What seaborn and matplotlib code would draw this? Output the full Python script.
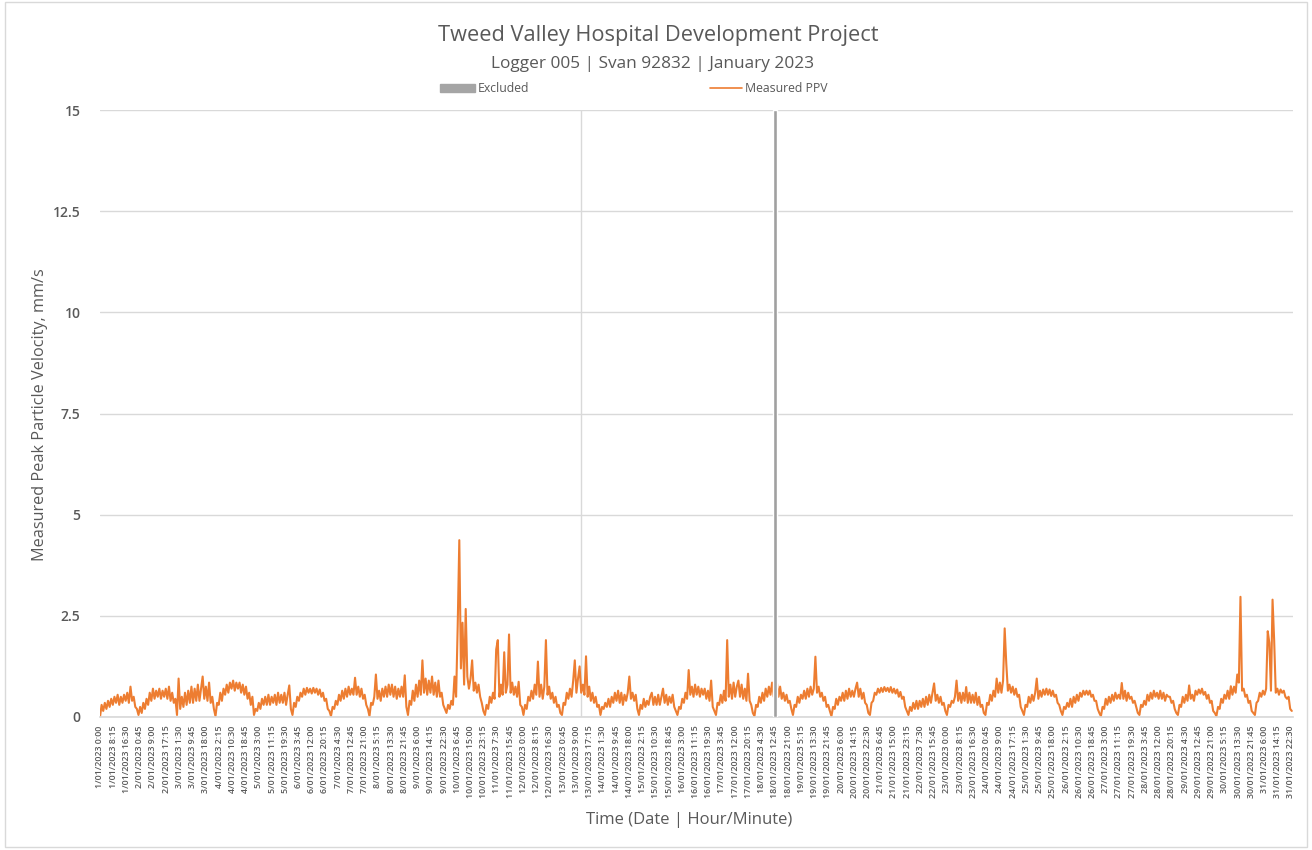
import pandas as pd
import numpy as np
import matplotlib.pyplot as plt
import seaborn as sns
from matplotlib.patches import Rectangle

# hourly PPV readings (mm/s), one row per day of January 2023
ppv = [
    0.0, 0.3, 0.15, 0.35, 0.2, 0.4, 0.25, 0.45, 0.3, 0.5, 0.35, 0.55, 0.3, 0.5, 0.35, 0.55, 0.4, 0.6, 0.35, 0.75, 0.4, 0.5, 0.25, 0.2,
    0.05, 0.25, 0.1, 0.35, 0.2, 0.45, 0.3, 0.6, 0.4, 0.7, 0.45, 0.65, 0.5, 0.7, 0.45, 0.65, 0.5, 0.7, 0.45, 0.75, 0.4, 0.6, 0.35, 0.45,
    0.05, 0.95, 0.2, 0.5, 0.25, 0.6, 0.3, 0.65, 0.35, 0.75, 0.35, 0.7, 0.4, 0.8, 0.4, 0.7, 1.0, 0.45, 0.75, 0.4, 0.85, 0.35, 0.5, 0.2,
    0.02, 0.35, 0.3, 0.6, 0.4, 0.7, 0.55, 0.8, 0.6, 0.85, 0.7, 0.9, 0.65, 0.85, 0.7, 0.85, 0.6, 0.8, 0.55, 0.75, 0.45, 0.6, 0.3, 0.5,
    0.05, 0.2, 0.15, 0.35, 0.2, 0.45, 0.3, 0.5, 0.3, 0.55, 0.3, 0.5, 0.35, 0.55, 0.3, 0.6, 0.35, 0.55, 0.35, 0.6, 0.3, 0.55, 0.78, 0.2,
    0.05, 0.35, 0.25, 0.5, 0.4, 0.6, 0.5, 0.7, 0.55, 0.72, 0.6, 0.7, 0.58, 0.72, 0.6, 0.7, 0.55, 0.68, 0.5, 0.6, 0.4, 0.45, 0.2, 0.15,
    0.02, 0.25, 0.2, 0.4, 0.3, 0.55, 0.4, 0.65, 0.45, 0.7, 0.5, 0.75, 0.55, 0.7, 0.55, 0.97, 0.55, 0.75, 0.5, 0.7, 0.45, 0.55, 0.3, 0.2,
    0.02, 0.35, 0.3, 0.5, 1.05, 0.45, 0.65, 0.4, 0.7, 0.5, 0.75, 0.5, 0.8, 0.55, 0.8, 0.5, 0.75, 0.45, 0.7, 0.5, 0.75, 0.5, 1.03, 0.25,
    0.05, 0.4, 0.3, 0.65, 0.4, 0.8, 0.5, 0.9, 0.55, 1.4, 0.6, 0.95, 0.55, 0.9, 0.6, 1.0, 0.55, 0.85, 0.5, 0.9, 0.5, 0.6, 0.3, 0.2,
    0.1, 0.3, 0.2, 0.4, 0.3, 1.0, 0.5, 2.25, 4.37, 1.2, 2.33, 0.8, 2.67, 1.0, 0.7, 0.95, 1.4, 0.65, 0.85, 0.6, 0.8, 0.5, 0.35, 0.15,
    0.05, 0.3, 0.2, 0.5, 0.35, 0.6, 0.45, 1.67, 1.9, 0.5, 0.8, 0.55, 1.6, 0.6, 0.8, 2.04, 0.6, 0.85, 0.55, 0.75, 0.5, 0.87, 0.3, 0.25,
    0.05, 0.3, 0.2, 0.5, 0.4, 0.65, 0.45, 0.8, 0.55, 1.37, 0.5, 0.8, 0.45, 0.75, 1.9, 0.55, 0.75, 0.45, 0.6, 0.35, 0.5, 0.25, 0.3, 0.1,
    0.05, 0.35, 0.3, 0.6, 0.45, 0.7, 0.5, 0.9, 1.4, 0.6, 0.95, 1.25, 0.6, 0.8, 0.55, 1.5, 0.5, 0.75, 0.4, 0.6, 0.35, 0.5, 0.25, 0.3,
    0.05, 0.25, 0.2, 0.35, 0.25, 0.45, 0.25, 0.5, 0.35, 0.6, 0.4, 0.65, 0.35, 0.6, 0.3, 0.55, 0.4, 0.6, 1.0, 0.45, 0.6, 0.4, 0.55, 0.2,
    0.05, 0.3, 0.2, 0.45, 0.25, 0.4, 0.3, 0.5, 0.6, 0.3, 0.5, 0.3, 0.55, 0.3, 0.5, 0.7, 0.35, 0.55, 0.3, 0.5, 0.35, 0.55, 0.25, 0.15,
    0.05, 0.25, 0.2, 0.45, 0.35, 0.6, 0.45, 1.16, 0.55, 0.75, 0.5, 0.8, 0.55, 0.75, 0.5, 0.7, 0.55, 0.7, 0.45, 0.65, 0.4, 0.9, 0.25, 0.15,
    0.05, 0.35, 0.3, 0.55, 0.35, 0.65, 0.4, 1.9, 0.5, 0.8, 0.45, 0.85, 0.5, 0.75, 0.9, 0.5, 0.8, 0.45, 0.7, 0.4, 1.07, 0.4, 0.3, 0.1,
    0.02, 0.3, 0.25, 0.5, 0.35, 0.6, 0.4, 0.7, 0.5, 0.75, 0.55, 0.85, 0.5, 0.75, 0.85, 0.5, 0.75, 0.45, 0.6, 0.4, 0.55, 0.35, 0.4, 0.2,
    0.05, 0.3, 0.25, 0.5, 0.35, 0.55, 0.45, 0.65, 0.45, 0.7, 0.5, 0.75, 0.55, 0.7, 1.49, 0.6, 0.75, 0.5, 0.6, 0.4, 0.5, 0.25, 0.3, 0.15,
    0.02, 0.25, 0.2, 0.45, 0.3, 0.5, 0.4, 0.6, 0.4, 0.65, 0.45, 0.7, 0.5, 0.65, 0.5, 0.7, 0.85, 0.5, 0.7, 0.45, 0.6, 0.35, 0.3, 0.1,
    0.05, 0.35, 0.4, 0.6, 0.55, 0.7, 0.6, 0.72, 0.62, 0.74, 0.64, 0.72, 0.62, 0.74, 0.6, 0.7, 0.58, 0.68, 0.5, 0.62, 0.45, 0.5, 0.25, 0.15,
    0.05, 0.25, 0.15, 0.35, 0.2, 0.4, 0.2, 0.4, 0.25, 0.45, 0.25, 0.5, 0.3, 0.55, 0.35, 0.6, 0.83, 0.4, 0.55, 0.35, 0.5, 0.3, 0.35, 0.15,
    0.05, 0.3, 0.25, 0.4, 0.35, 0.5, 0.9, 0.4, 0.6, 0.35, 0.6, 0.4, 0.74, 0.35, 0.6, 0.35, 0.55, 0.35, 0.6, 0.3, 0.5, 0.25, 0.3, 0.1,
    0.05, 0.35, 0.3, 0.55, 0.4, 0.65, 0.5, 0.95, 0.6, 0.85, 0.6, 0.9, 2.19, 1.32, 0.65, 0.8, 0.6, 0.75, 0.55, 0.7, 0.5, 0.55, 0.25, 0.15,
    0.05, 0.3, 0.25, 0.5, 0.35, 0.55, 0.4, 0.6, 0.95, 0.45, 0.65, 0.5, 0.68, 0.55, 0.7, 0.55, 0.68, 0.52, 0.65, 0.5, 0.55, 0.35, 0.3, 0.15,
    0.05, 0.25, 0.2, 0.35, 0.25, 0.45, 0.25, 0.5, 0.35, 0.55, 0.4, 0.6, 0.5, 0.65, 0.55, 0.65, 0.55, 0.65, 0.5, 0.55, 0.4, 0.4, 0.2, 0.1,
    0.02, 0.25, 0.2, 0.45, 0.3, 0.5, 0.35, 0.55, 0.4, 0.6, 0.45, 0.55, 0.45, 0.84, 0.45, 0.65, 0.4, 0.6, 0.45, 0.5, 0.35, 0.4, 0.25, 0.1,
    0.05, 0.3, 0.25, 0.4, 0.3, 0.55, 0.4, 0.6, 0.45, 0.65, 0.5, 0.6, 0.45, 0.65, 0.45, 0.6, 0.4, 0.55, 0.5, 0.5, 0.35, 0.4, 0.2, 0.1,
    0.05, 0.3, 0.25, 0.5, 0.35, 0.55, 0.4, 0.78, 0.45, 0.55, 0.4, 0.65, 0.55, 0.68, 0.58, 0.7, 0.55, 0.62, 0.45, 0.55, 0.35, 0.4, 0.15, 0.1,
    0.02, 0.25, 0.2, 0.45, 0.35, 0.55, 0.45, 0.65, 0.45, 0.76, 0.55, 0.75, 0.6, 1.05, 0.85, 2.97, 0.65, 0.7, 0.5, 0.55, 0.35, 0.4, 0.15, 0.1,
    0.05, 0.35, 0.4, 0.6, 0.5, 0.65, 0.55, 0.7, 2.12, 1.83, 0.65, 2.9, 1.9, 0.6, 0.7, 0.55, 0.68, 0.6, 0.65, 0.5, 0.45, 0.5, 0.2, 0.15,
]
start = "2023-01-01 00:00"
end = "2023-01-31 23:45"
excluded_time = "2023-01-18 12:45"
excluded_value = 15
marker_time = "2023-01-13 12:00"
yticks = [0, 2.5, 5, 7.5, 10, 12.5, 15]

times = pd.date_range(start, periods=len(ppv), freq="h")
df = pd.DataFrame({"time": times, "ppv": ppv})

# category labels every 33 readings of 15 min (8h15)
tick_times = pd.date_range(start, end, freq="495min")
tick_labels = [f"{t.day}/{t.month:02d}/{t.year} {t.hour}:{t.minute:02d}" for t in tick_times]

sns.set_theme(style="white")
plt.rcParams['font.family'] = ['Open Sans', 'DejaVu Sans']
txt = "#595959"

fig = plt.figure(figsize=(13.12, 8.5), dpi=100)
ax = fig.add_axes([100/1312, 1-717/850, 1193/1312, 607/850])

ax.bar(pd.Timestamp(excluded_time), excluded_value, width=0.09, color="#a0a0a0", zorder=3)
ax.axvline(pd.Timestamp(marker_time), color="#d9d9d9", lw=1, zorder=1)
sns.lineplot(data=df, x="time", y="ppv", color="#ED7D31", lw=1.5, ax=ax, zorder=2)

ax.set_xlim(pd.Timestamp(start), pd.Timestamp(end))
ax.set_ylim(0, 15)
ax.set_yticks(yticks)
ax.set_yticklabels([f"{v:g}" for v in yticks], fontsize=10, color=txt, fontweight="semibold")
ax.set_xticks(tick_times)
ax.set_xticklabels(tick_labels, rotation=90, fontsize=6.4, color=txt, fontweight="semibold")
ax.tick_params(axis="both", length=0, pad=6)
ax.tick_params(axis="y", pad=14)
ax.grid(axis="y", color="#d9d9d9", lw=1)
for s in ["top", "right", "left"]:
    ax.spines[s].set_visible(False)
ax.spines["bottom"].set_color("#d9d9d9")
ax.set_xlabel("")
ax.set_ylabel("")

fig.text(40/1312, 1-415/850, "Measured Peak Particle Velocity, mm/s", rotation=90,
         ha="center", va="center", fontsize=11.7, color=txt)
fig.text(689/1312, 1-820/850, "Time (Date | Hour/Minute)", ha="center", va="center",
         fontsize=12, color=txt)
fig.text(658/1312, 1-35/850, "Tweed Valley Hospital Development Project", ha="center",
         va="center", fontsize=15.7, color=txt)
fig.text(653/1312, 1-64/850, "Logger 005 | Svan 92832 | January 2023", ha="center",
         va="center", fontsize=12.4, color=txt)

# legend drawn as figure elements
fig.patches.append(Rectangle((440/1312, 1-92/850), 35/1312, 8/850, transform=fig.transFigure,
                             color="#a5a5a5"))
fig.text(478/1312, 1-88/850, "Excluded", va="center", fontsize=8.8, color=txt)
fig.lines.append(plt.Line2D([710/1312, 742/1312], [1-88/850, 1-88/850], transform=fig.transFigure,
                            color="#ED7D31", lw=1.2))
fig.text(745/1312, 1-88/850, "Measured PPV", va="center", fontsize=8.8, color=txt)

fig.patches.append(Rectangle((5/1312, 3/850), 1302/1312, 845/850, transform=fig.transFigure,
                             fill=False, edgecolor="#d9d9d9", lw=1))

fig.savefig("out.png", dpi=100)
